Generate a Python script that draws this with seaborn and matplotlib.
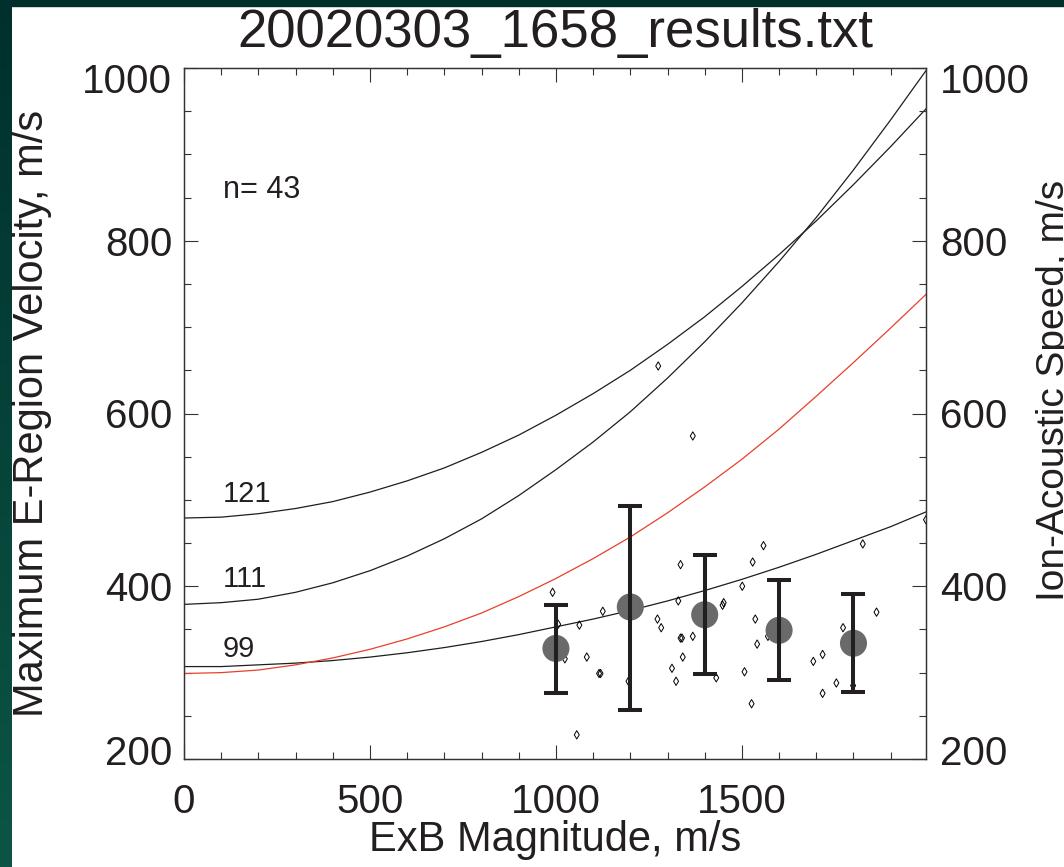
import numpy as np
import matplotlib
matplotlib.use("Agg")
import matplotlib.pyplot as plt
import matplotlib.transforms as mtransforms
from matplotlib.patches import Rectangle
from matplotlib.colors import LinearSegmentedColormap
from matplotlib.ticker import MultipleLocator, FixedLocator
import seaborn as sns

# ---------------- data ----------------
exb = [0, 100, 200, 300, 400, 500, 600, 700, 800, 900, 1000,
       1100, 1200, 1300, 1400, 1500, 1600, 1700, 1800, 1900, 2000]
vmax_121 = [479, 480, 484, 490, 498, 509, 522, 537, 555, 575, 598,
            623, 650, 680, 712, 747, 784, 823, 865, 909, 955]
vmax_111 = [379, 381, 385, 393, 404, 418, 435, 455, 478, 505, 535,
            567, 602, 641, 683, 728, 776, 827, 882, 940, 1000]
vmax_99 = [307, 307, 309, 311, 314, 318, 323, 329, 336, 344, 353,
           362, 372, 383, 395, 408, 422, 437, 453, 469, 487]
cs_red = [299, 300, 303, 309, 317, 327, 339, 353, 369, 388, 409,
          432, 457, 485, 515, 547, 582, 620, 659, 699, 740]
curve_names = ["121", "111", "99"]
curve_label_x = [105, 105, 104]
curve_label_y = [497, 399, 318]

pts_x = [1368, 991, 1063, 1006, 1024, 1083, 1126, 1116, 1120, 1056,
         1195, 1273, 1283, 1329, 1335, 1335, 1339, 1341, 1368, 1312,
         1323, 1431, 1448, 1451, 1501, 1529, 1558, 1536, 1541, 1507,
         1526, 1570, 1692, 1717, 1717, 1754, 1772, 1799, 1825, 1862,
         1995, 1275]
pts_v = [574, 393, 355, 356, 316, 318, 371, 299, 299, 228,
         290, 362, 352, 383, 425, 340, 340, 318, 342, 305,
         290, 294, 378, 381, 400, 428, 447, 362, 333, 301,
         264, 342, 313, 321, 276, 288, 352, 285, 449, 370,
         477, 655]

bin_x = [1000, 1200, 1400, 1600, 1800]
bin_mean = [328, 376, 367, 349, 334]
bin_lo = [276, 257, 298, 291, 277]
bin_hi = [378, 493, 436, 407, 391]

title = "20020303_1658_results.txt"
n_text = "n= 43"

# ---------------- style ----------------
sns.set_theme(style="white")
plt.rcParams["font.family"] = ["Liberation Sans", "DejaVu Sans"]
ink = "#231f20"

W, H = 1064, 867
fig = plt.figure(figsize=(W / 100, H / 100), dpi=100)
fig.patch.set_facecolor("white")

# slide background strips (left gradient, top band)
axg = fig.add_axes([0, 0, 12 / W, 1])
cmap = LinearSegmentedColormap.from_list("slide", ["#00302c", "#0c5546"])
axg.imshow(np.linspace(0, 1, 200).reshape(-1, 1), aspect="auto", cmap=cmap)
axg.axis("off")
fig.patches.append(Rectangle((0, 1 - 6 / H), 1, 6 / H, transform=fig.transFigure,
                             color="#00302c", zorder=10))

ax = fig.add_axes([184 / W, 1 - 759 / H, 742 / W, 691 / H])
ax.set_facecolor("white")

# model curves
for vals, col in [(vmax_121, "#1e1e1e"), (vmax_111, "#1e1e1e"),
                  (vmax_99, "#1e1e1e"), (cs_red, "#e8402c")]:
    sns.lineplot(x=exb, y=vals, ax=ax, color=col, lw=0.9,
                 estimator=None, sort=False, zorder=2)

# individual measurements
sns.scatterplot(x=pts_x, y=pts_v, ax=ax, marker="d", s=18,
                facecolor="none", edgecolor="black", linewidth=0.7, zorder=3)

# binned means and spreads
sns.scatterplot(x=bin_x, y=bin_mean, ax=ax, s=380, color="#6a6a6a",
                edgecolor="none", zorder=4)
yerr = [np.array(bin_mean) - np.array(bin_lo), np.array(bin_hi) - np.array(bin_mean)]
ax.errorbar(bin_x, bin_mean, yerr=yerr, fmt="none", ecolor=ink,
            elinewidth=2.9, capsize=8.8, capthick=2.9, zorder=5)

# curve labels and count
for name, lx, ly in zip(curve_names, curve_label_x, curve_label_y):
    ax.text(lx, ly, name, fontsize=21, ha="left", va="baseline", color=ink)
ax.text(104, 849, n_text, fontsize=22, ha="left", va="baseline", color=ink)

# axes
ax.set_xlim(0, 1995)
ax.set_ylim(200, 1000)
ax.xaxis.set_major_locator(FixedLocator([0, 500, 1000, 1500]))
ax.xaxis.set_minor_locator(MultipleLocator(100))
ax.yaxis.set_major_locator(FixedLocator([200, 400, 600, 800, 1000]))
ax.yaxis.set_minor_locator(MultipleLocator(50))

for sp in ax.spines.values():
    sp.set_color("#333333")
    sp.set_linewidth(0.9)

ax.tick_params(axis="both", which="both", direction="in", colors="#333333",
               labelcolor=ink, bottom=True, top=True, left=True, right=False,
               width=0.8)
ax.tick_params(which="major", length=10)
ax.tick_params(which="minor", length=5)
ax.tick_params(axis="x", pad=17, labelsize=29)
ax.tick_params(axis="y", pad=8.5, labelsize=29)

ax2 = ax.twinx()
ax2.set_ylim(200, 1000)
ax2.yaxis.set_major_locator(FixedLocator([200, 400, 600, 800, 1000]))
ax2.yaxis.set_minor_locator(MultipleLocator(50))
ax2.tick_params(axis="y", which="both", direction="in", colors="#333333",
                labelcolor=ink, left=False, right=True, width=0.8,
                pad=10, labelsize=29)
ax2.tick_params(which="major", length=10)
ax2.tick_params(which="minor", length=5)
for sp in ax2.spines.values():
    sp.set_color("#333333")
    sp.set_linewidth(0.9)

# nudge end labels inward like the reference
for a in (ax, ax2):
    ticks = a.yaxis.get_major_ticks()
    down = mtransforms.ScaledTranslation(0, -10 / 100, fig.dpi_scale_trans)
    up = mtransforms.ScaledTranslation(0, 9 / 100, fig.dpi_scale_trans)
    for t in ticks[-1:]:
        t.label1.set_transform(t.label1.get_transform() + down)
        t.label2.set_transform(t.label2.get_transform() + down)
    for t in ticks[:1]:
        t.label1.set_transform(t.label1.get_transform() + up)
        t.label2.set_transform(t.label2.get_transform() + up)

ax.set_xlabel("ExB Magnitude, m/s", fontsize=30, color=ink)
ax.xaxis.set_label_coords(0.5, -0.088)
ax.set_ylabel("Maximum E-Region Velocity, m/s", fontsize=30, color=ink)
ax.yaxis.set_label_coords(-0.178, 0.5)
ax2.set_ylabel("Ion-Acoustic Speed, m/s", fontsize=28, color=ink)
ax2.yaxis.set_label_coords(1.148, 0.534)

ax.set_title(title, fontsize=38, pad=15, color=ink)

fig.savefig("out.png", dpi=100, facecolor=fig.get_facecolor())
